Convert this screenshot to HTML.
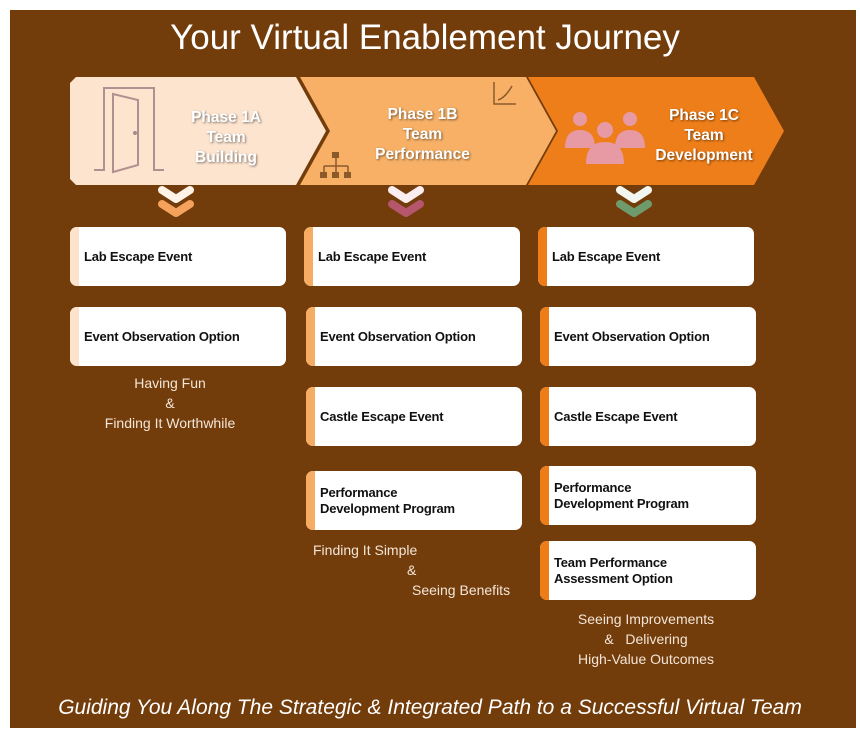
<!DOCTYPE html>
<html><head><meta charset="utf-8"><style>
body{margin:0;width:860px;height:738px;background:#fff;font-family:"Liberation Sans",sans-serif;}
#bg{position:absolute;left:10px;top:10px;width:846px;height:718px;background:#733c0b;}
.card{position:absolute;width:216px;height:59px;background:#fff;border-radius:7px;overflow:hidden;font-weight:bold;font-size:13px;color:#111;display:flex;align-items:center;box-sizing:border-box;padding-left:14px;line-height:16px;letter-spacing:-0.2px}
.card:before{content:"";position:absolute;left:0;top:0;bottom:0;width:9px;}
.a:before{background:#fde3cc}.b:before{background:#f6ac62}.c:before{background:#ee7d18}
.t{position:absolute;color:#f3e6d8;font-size:14px;text-align:center;line-height:20px}
.ph{position:absolute;color:#fff;font-weight:bold;font-size:15.5px;text-align:center;line-height:20px;text-shadow:1px 1px 2px rgba(0,0,0,.5)}
</style></head><body>
<div id="bg"></div>
<div style="position:absolute;left:0;width:850px;top:18px;text-align:center;color:#fff;font-size:35px">Your Virtual Enablement Journey</div>
<svg style="position:absolute;left:0;top:0" width="860" height="738">
<polygon points="76,77 296,77 326,131 296,185 76,185 70,179 70,83" fill="#fde4cf"/>
<polygon points="306,77 526,77 556,131 526,185 300,185 330,131 300,77" fill="#f7b066"/>
<polygon points="534,77 754,77 784,131 754,185 528,185 558,131 528,77" fill="#ee7e1a"/>
<g stroke="#b09090" stroke-width="2" fill="none"><path d="M94,170H104V88H154V170H164"/><path d="M113,94 138,100V165L113,172Z"/></g>
<circle cx="135" cy="133" r="2" fill="#a8898a"/>
<g stroke="#8b5a2b" stroke-width="1.5" fill="none"><path d="M494,82V104H516"/><path d="M498,100Q505,98 512,86"/><path d="M336,156V166M324,166H348M324,166V172M336,166V172M348,166V172"/></g>
<g fill="#8b5a2b"><rect x="332" y="152" width="7" height="6"/><rect x="320" y="172" width="7" height="6"/><rect x="332" y="172" width="7" height="6"/><rect x="344" y="172" width="7" height="6"/></g>
<g fill="#e79aa3"><circle cx="580" cy="119" r="7"/><path d="M565,148q0,-18 15,-18q15,0 15,18Z"/><circle cx="630" cy="119" r="7"/><path d="M615,148q0,-18 15,-18q15,0 15,18Z"/><circle cx="605" cy="130" r="8"/><path d="M586,164q0,-22 19,-22q19,0 19,22Z"/></g>
<g fill="none" stroke-width="8" stroke-linecap="round" stroke-linejoin="round">
<path d="M162,190 176,199 190,190" stroke="#fff3e8"/><path d="M162,204 176,213 190,204" stroke="#f5a35c"/>
<path d="M392,190 406,199 420,190" stroke="#fbeef0"/><path d="M392,204 406,213 420,204" stroke="#b5566d"/>
<path d="M620,190 634,199 648,190" stroke="#f2f8f0"/><path d="M620,204 634,213 648,204" stroke="#6e9a6c"/>
</g></svg>
<div class="ph" style="left:176px;top:108px;width:100px">Phase 1A<br>Team<br>Building</div>
<div class="ph" style="left:360px;top:105px;width:125px">Phase 1B<br>Team<br>Performance</div>
<div class="ph" style="left:644px;top:106px;width:120px">Phase 1C<br>Team<br>Development</div>
<div class="card a" style="left:70px;top:227px">Lab Escape Event</div>
<div class="card a" style="left:70px;top:307px">Event Observation Option</div>
<div class="card b" style="left:304px;top:227px">Lab Escape Event</div>
<div class="card b" style="left:306px;top:307px">Event Observation Option</div>
<div class="card b" style="left:306px;top:387px">Castle Escape Event</div>
<div class="card b" style="left:306px;top:471px">Performance<br>Development Program</div>
<div class="card c" style="left:538px;top:227px">Lab Escape Event</div>
<div class="card c" style="left:540px;top:307px">Event Observation Option</div>
<div class="card c" style="left:540px;top:387px">Castle Escape Event</div>
<div class="card c" style="left:540px;top:466px">Performance<br>Development Program</div>
<div class="card c" style="left:540px;top:541px">Team Performance<br>Assessment Option</div>
<div class="t" style="left:70px;top:373px;width:200px">Having Fun<br>&amp;<br>Finding It Worthwhile</div>
<div class="t" style="left:313px;top:540px;text-align:left">Finding It Simple</div>
<div class="t" style="left:407px;top:560px;text-align:left">&amp;</div>
<div class="t" style="left:412px;top:580px;text-align:left">Seeing Benefits</div>
<div class="t" style="left:546px;top:609px;width:200px">Seeing Improvements<br>&amp;&nbsp;&nbsp; Delivering<br>High-Value Outcomes</div>
<div style="position:absolute;left:0;width:860px;top:696px;text-align:center;color:#fff;font-style:italic;font-size:21px">Guiding You Along The Strategic &amp; Integrated Path to a Successful Virtual Team</div>
</body></html>
